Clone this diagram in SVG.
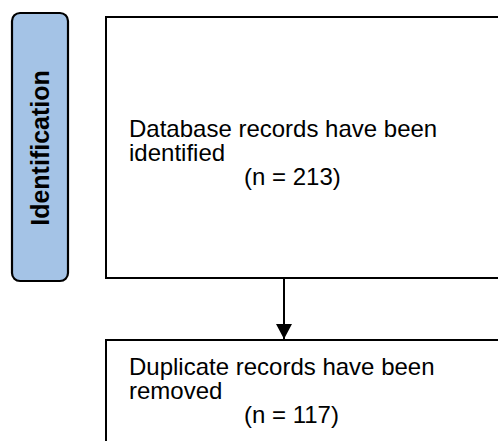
<svg xmlns="http://www.w3.org/2000/svg" width="498" height="441" viewBox="0 0 498 441">
  <defs>
    <marker id="arrowhead" markerUnits="userSpaceOnUse" markerWidth="16" markerHeight="20" refX="15" refY="8" orient="auto">
      <path d="M0,0 L15,8 L0,16 Z" fill="#000"/>
    </marker>
  </defs>
  <style>
    .box { fill: #fff; stroke: #000; stroke-width: 2; }
    .stage { fill: #a4c3e6; stroke: #000; stroke-width: 2.2; }
    .txt { font-family: "Liberation Sans", Arial, sans-serif; font-size: 24px; fill: #000; }
    .stage-txt { font-family: "Liberation Sans", Arial, sans-serif; font-size: 25px; font-weight: bold; fill: #000; }
    .edge { stroke: #000; stroke-width: 2; fill: none; }
  </style>
  <rect width="498" height="441" fill="#fff"/>

  <g id="stage-identification">
    <rect class="stage" x="12" y="13" width="56" height="268" rx="8" ry="8"/>
    <text class="stage-txt" transform="translate(49,148) rotate(-90)" text-anchor="middle">Identification</text>
  </g>

  <g id="records-identified">
    <rect class="box" x="106" y="17" width="420" height="261"/>
    <text class="txt" x="129" y="137">Database records have been</text>
    <text class="txt" x="129" y="161">identified</text>
    <text class="txt" x="244" y="185">(n = 213)</text>
  </g>

  <g id="duplicates-removed">
    <rect class="box" x="106" y="340" width="420" height="120"/>
    <text class="txt" x="129" y="375">Duplicate records have been</text>
    <text class="txt" x="129" y="399">removed</text>
    <text class="txt" x="244" y="423">(n = 117)</text>
  </g>

  <g id="connectors">
    <line class="edge" x1="284" y1="278" x2="284" y2="339" marker-end="url(#arrowhead)"/>
  </g>
</svg>
